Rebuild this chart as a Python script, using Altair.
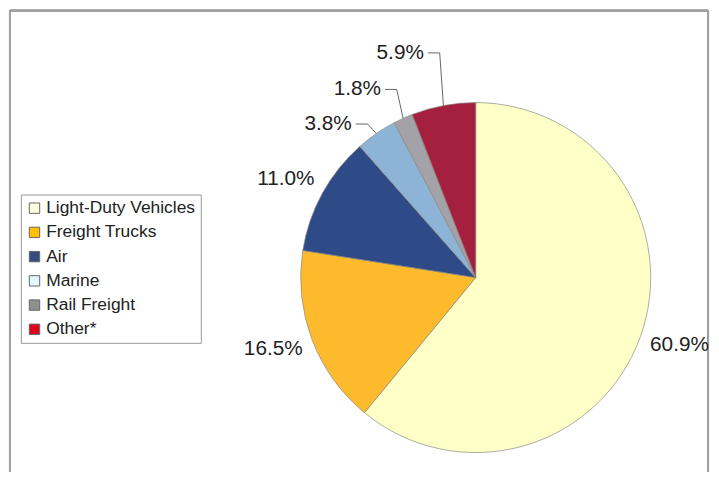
import math
import altair as alt
import pandas as pd

# ---- data ----
categories = ["Light-Duty Vehicles", "Freight Trucks", "Air", "Marine", "Rail Freight", "Other*"]
shares = [60.9, 16.5, 11.0, 3.8, 1.8, 5.9]
share_labels = ["60.9%", "16.5%", "11.0%", "3.8%", "1.8%", "5.9%"]

# ---- styles ----
slice_colors = ["#FFFFC8", "#FDBA2C", "#2E4B88", "#8DB4D6", "#A2A2A8", "#A51F3F"]
legend_colors = ["#FFFFE0", "#FFC000", "#334D80", "#E0F8FF", "#909090", "#E00020"]

W, H = 711, 466
CX, CY = 473, 270
R = 177
LABEL_R = 219
FONT = "Liberation Sans"
TXT = "#222222"

# label nudges (dx, dy)
big_labels = {"Light-Duty Vehicles": (0, -6), "Freight Trucks": (0, -6), "Air": (0, 6)}
small_labels = {"Marine": (-1, 25), "Rail Freight": (-5, 9), "Other*": (-12, -12)}

df = pd.DataFrame({
    "category": categories,
    "share": shares,
    "label": share_labels,
    "order": list(range(len(categories))),
    "fill": slice_colors,
})

total = sum(shares)

base = alt.Chart(df)

legend_layer = base.mark_square(size=1, opacity=1).encode(
    x=alt.value(CX), y=alt.value(CY),
    color=alt.Color(
        "category:N",
        scale=alt.Scale(domain=categories, range=legend_colors),
        sort=categories,
        legend=alt.Legend(
            title=None, orient="none", legendX=13, legendY=186,
            symbolType="square", symbolSize=110, symbolOpacity=1,
            symbolStrokeColor="#666666", symbolStrokeWidth=1,
            labelFontSize=17.6, labelFont=FONT, labelColor=TXT,
            strokeColor="#999999", fillColor="white",
            padding=5, rowPadding=5.5, labelOffset=3, labelLimit=400,
        ),
    ),
)

pie = base.mark_arc(outerRadius=R, stroke="#8a8a80", strokeWidth=0.7).encode(
    theta=alt.Theta("share:Q", stack=True),
    order=alt.Order("order:Q"),
    fill=alt.Fill("fill:N", scale=None),
    x=alt.value(CX), y=alt.value(CY),
)

layers = [legend_layer, pie]

cum = 0.0
leader_rows = []
for cat, s in zip(categories, shares):
    mid = (cum + s / 2) / total * 2 * math.pi
    cum += s
    if cat in big_labels:
        dx, dy = big_labels[cat]
        align = "center"
    else:
        dx, dy = small_labels[cat]
        align = "right"
        lx = CX + LABEL_R * math.sin(mid) + dx
        ly = CY - LABEL_R * math.cos(mid) + dy
        ex = CX + R * math.sin(mid)
        ey = CY - R * math.cos(mid)
        pts = [(lx + 4, ly), (lx + 16, ly), (ex, ey)]
        for i, (px, py) in enumerate(pts):
            leader_rows.append({"category": cat, "i": i, "px": px, "py": py})
    layers.append(
        base.mark_text(font=FONT, fontSize=21, color=TXT, align=align, baseline="middle",
                       dx=dx, dy=dy).encode(
            theta=alt.Theta("share:Q", stack=True),
            order=alt.Order("order:Q"),
            radius=alt.value(LABEL_R),
            x=alt.value(CX), y=alt.value(CY),
            text=alt.condition(f"datum.category == '{cat}'", "label:N", alt.value("")),
        )
    )

leaders = alt.Chart(pd.DataFrame(leader_rows)).mark_line(color="#666666", strokeWidth=1).encode(
    x=alt.X("px:Q", scale=None),
    y=alt.Y("py:Q", scale=None),
    detail="category:N",
    order="i:Q",
)
layers.append(leaders)

frame_color = "#A0A0A0"
frame = [
    alt.Chart(df).mark_rule(color=frame_color, strokeWidth=2).encode(
        x=alt.value(2), y=alt.value(0), y2=alt.value(H)),
    alt.Chart(df).mark_rule(color=frame_color, strokeWidth=2).encode(
        x=alt.value(2), x2=alt.value(708), y=alt.value(0)),
    alt.Chart(df).mark_rule(color=frame_color, strokeWidth=2).encode(
        x=alt.value(708), y=alt.value(0), y2=alt.value(H)),
]

chart = alt.layer(*(frame + layers)).resolve_scale(
    theta="independent", color="independent"
).properties(
    width=W, height=H, padding=0, autosize=alt.AutoSizeParams(type="none"),
    background="white",
).configure_view(stroke=None)

chart.save("out.html", embed_options={"renderer": "svg", "actions": False})
